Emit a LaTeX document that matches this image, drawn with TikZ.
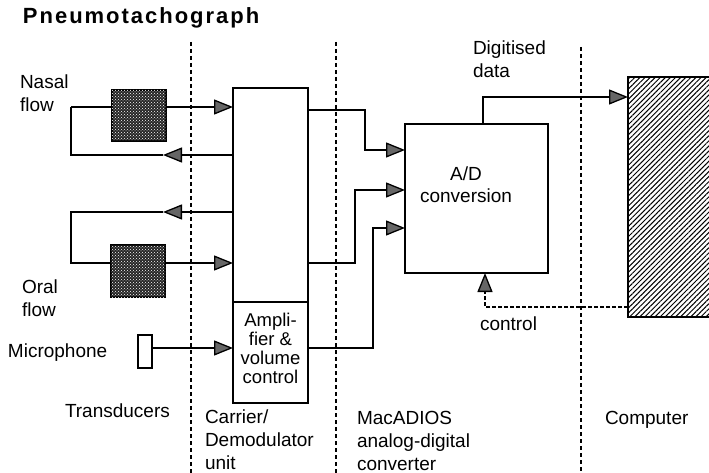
\documentclass[tikz,border=0pt]{standalone}
\usepackage{fontspec}
\setmainfont{Liberation Sans}
\newfontfamily\titlefont{Liberation Sans}[LetterSpace=9]
\usetikzlibrary{arrows.meta,patterns,patterns.meta}
\begin{document}
\begin{tikzpicture}[x=1pt,y=-1pt,line width=1.3pt,
  every node/.style={inner sep=0pt,outer sep=0pt},
  lbl/.style={font=\fontsize{19}{23}\selectfont, align=left, anchor=north west},
  box/.style={draw, fill=white},
  pneumo/.style={draw, fill=black!85, postaction={pattern=crosshatch dots, pattern color=white}},
  hatched/.style={draw, pattern={Lines[angle=45,distance=3.6pt,line width=1pt]}},
  arr/.style={-{Triangle[length=19pt,width=15pt,fill=black!60]}},
  divider/.style={line width=2.2pt, dash pattern=on 4pt off 3pt},
  ctrl/.style={dash pattern=on 4pt off 2pt}]
\useasboundingbox (0,0) rectangle (709,473);

% dividers
\coordinate (v1t) at (191,42); \coordinate (v1b) at (191,473);
\coordinate (v2t) at (336,42); \coordinate (v2b) at (336,473);
\coordinate (v3t) at (581,47); \coordinate (v3b) at (581,473);
\draw[divider] (v1t) -- (v1b);
\draw[divider] (v2t) -- (v2b);
\draw[divider] (v3t) -- (v3b);

% boxes
\node[pneumo, minimum width=54pt, minimum height=51pt] (nasalpt) at (139,115.5) {};
\node[pneumo, minimum width=54pt, minimum height=52pt] (oralpt) at (138,271) {};
\node[box, minimum width=14pt, minimum height=33pt] (mic) at (145,351.5) {};
\node[box, minimum width=75pt, minimum height=214pt] (carrier) at (270.5,195) {};
\node[box, minimum width=75pt, minimum height=101pt] (amp) at (270.5,352.5) {};
\node[font=\fontsize{18.5}{19}\selectfont, align=center] (amptext) at (270.5,348) {Ampli-\\fier \&\\volume\\control};
\node[box, minimum width=143pt, minimum height=149pt] (ad) at (476.5,198.5) {};
\node[font=\fontsize{19}{22}\selectfont, align=center] (adtext) at (466,185) {A/D\\conversion};
\node[hatched, minimum width=84pt, minimum height=240pt] (comp) at (670,197) {};

% path corners
\coordinate (nl) at (71,107);
\coordinate (nr1) at (163,155);
\coordinate (nr2) at (163,212);
\coordinate (ol) at (71,263);
\coordinate (mc) at (152,348);
\coordinate (o1) at (365,110); \coordinate (o1b) at (365,150);
\coordinate (o2) at (355,263); \coordinate (o2b) at (355,190);
\coordinate (o3) at (373,348); \coordinate (o3b) at (373,228);
\coordinate (d1) at (483,97);
\coordinate (c1) at (485,307);

% connectors
\draw (nl) -- (nasalpt.west |- nl);
\draw[arr] (nasalpt.east |- nl) -- (carrier.west |- nl);
\draw[arr] (carrier.west |- nr1) -- (nr1);
\draw (nr1) -- (nr1 -| nl) -- (nl);
\draw[arr] (carrier.west |- nr2) -- (nr2);
\draw (nr2) -- (nr2 -| ol) -- (ol) -- (oralpt.west |- ol);
\draw[arr] (oralpt.east |- ol) -- (carrier.west |- ol);
\draw[arr] (mic.east |- mc) -- (amp.west |- mc);
\draw[arr] (carrier.east |- o1) -- (o1) -- (o1b) -- (ad.west |- o1b);
\draw[arr] (carrier.east |- o2) -- (o2) -- (o2b) -- (ad.west |- o2b);
\draw[arr] (amp.east |- o3) -- (o3) -- (o3b) -- (ad.west |- o3b);
\draw[arr] (ad.north -| d1) -- (d1) -- (comp.west |- d1);
\draw[arr, ctrl] (comp.west |- c1) -- (c1) -- (ad.south -| c1);

% labels
\node[anchor=north west, font=\titlefont\bfseries\fontsize{22}{24}\selectfont] (title) at (23,8) {Pneumotachograph};
\node[lbl] (nasallbl) at (20,75) {Nasal\\flow};
\node[lbl] (orallbl) at (22,280) {Oral\\flow};
\node[lbl] (miclbl) at (8,344) {Microphone};
\node[lbl] (trans) at (65,404) {Transducers};
\node[lbl] (carrlbl) at (205,410) {Carrier/\\Demodulator\\unit};
\node[lbl] (maclbl) at (357,411) {MacADIOS\\analog-digital\\converter};
\node[lbl] (complbl) at (605,411) {Computer};
\node[lbl] (diglbl) at (473,41) {Digitised\\data};
\node[lbl] (ctrllbl) at (480,317) {control};
\end{tikzpicture}
\end{document}
